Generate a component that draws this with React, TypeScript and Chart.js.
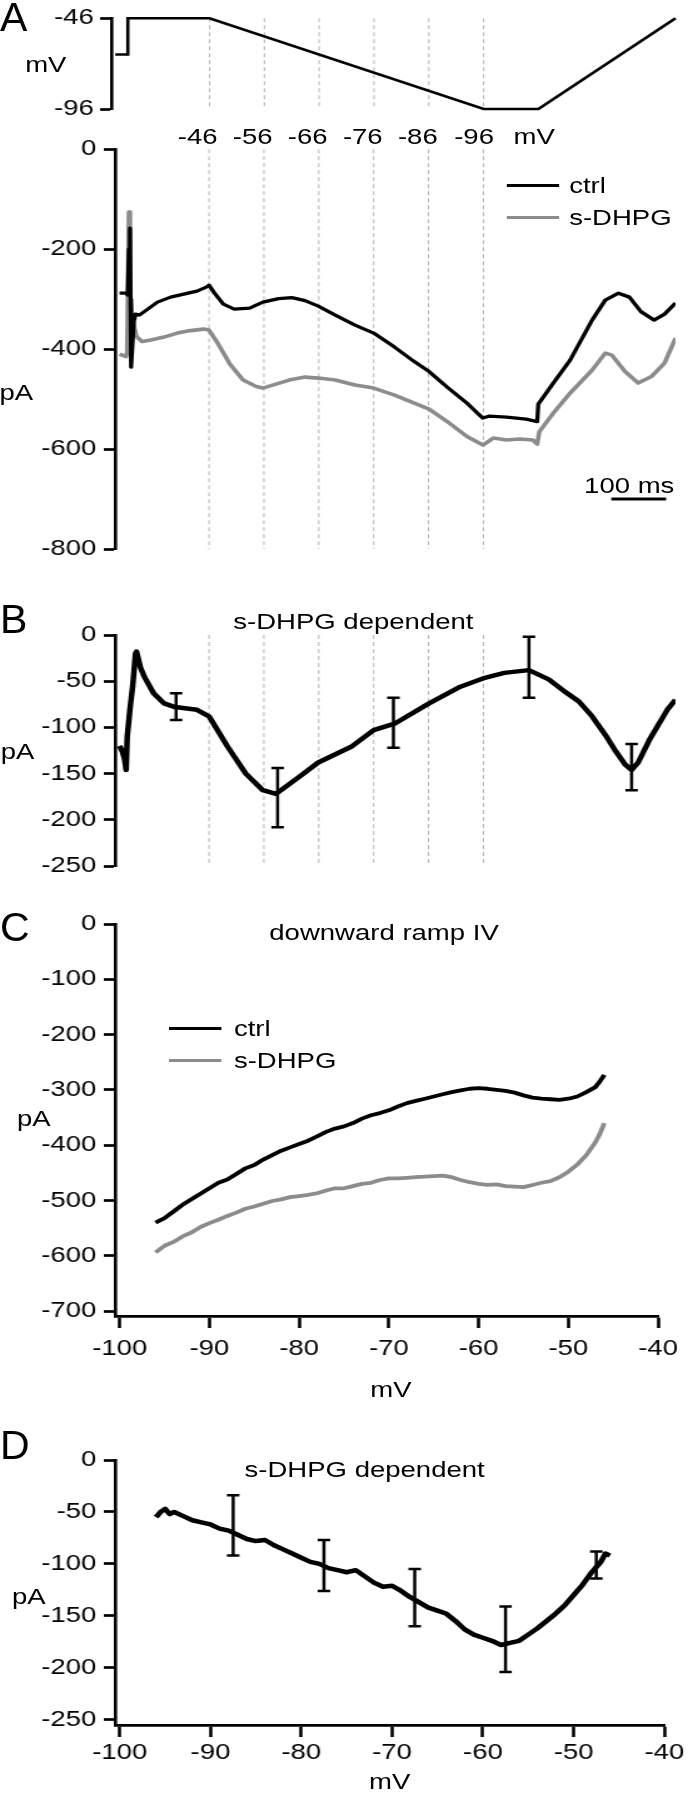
import React, { useEffect, useRef } from "react";
import { Chart, registerables } from "chart.js";
Chart.register(...registerables);

// The figure is drawn on a 550px-wide stage that is stretched horizontally to 688px,
// like the reference figure, whose content is horizontally stretched.
const STAGE_W = 550;
const STRETCH = 688 / STAGE_W;

const FONT = "'Liberation Sans', Arial, Helvetica, sans-serif";
const FS = 22;
const GRAY = "#8c8c8c";
const DASH = "#b4b4b4";

// ---------- Panel A (top): voltage protocol; time in ms, 0 = start of downward ramp
const protoTime = [-172, -149, -149, 0, 500, 600, 850];
const protoMv = [-66, -66, -46, -46, -96, -96, -46];
const protoTicks = [-96, -46];
const rampMarkTime = [0, 100, 200, 300, 400, 500];
const rampMarkLabels = ["-46", "-56", "-66", "-76", "-86", "-96"];

// ---------- Panel A: currents (pA) vs time (ms)
const aCtrlTime = [-163, -151, -148, -146, -144, -143, -142, -140, -137, -134, -127, -118, -94, -70, -46, -22, -5, 0, 10, 26, 46, 74, 98, 127, 151, 175, 199, 230, 266, 300, 338, 374, 401, 434, 470, 487, 499, 511, 542, 578, 598, 600, 626, 658, 698, 722, 746, 766, 787, 811, 830, 850];
const aCtrlPa = [-288, -288, -292, -200, -158, -300, -436, -400, -345, -330, -332, -325, -306, -296, -290, -284, -276, -272, -288, -310, -320, -318, -306, -299, -297, -303, -314, -332, -352, -368, -396, -425, -445, -476, -508, -526, -538, -534, -536, -540, -545, -510, -470, -422, -342, -302, -288, -296, -325, -342, -330, -308];
const aDhpgTime = [-163, -151, -149, -146, -144, -139, -132, -122, -106, -82, -58, -34, -10, 0, 14, 38, 62, 86, 98, 122, 146, 175, 199, 230, 266, 300, 338, 374, 401, 434, 470, 499, 518, 542, 566, 590, 598, 602, 626, 658, 698, 722, 734, 758, 782, 806, 830, 850];
const aDhpgPa = [-410, -415, -405, -126, -300, -345, -375, -385, -382, -376, -368, -363, -360, -362, -385, -430, -462, -475, -478, -470, -462, -456, -458, -462, -472, -478, -492, -508, -520, -545, -575, -592, -578, -582, -580, -582, -590, -565, -530, -488, -442, -408, -412, -445, -468, -455, -428, -378];
const aTicks = [-800, -600, -400, -200, 0];
const scaleBarTime = [733, 833]; // 100 ms
const scaleBarPa = [-700, -700];

// ---------- Panel B: s-DHPG dependent current vs time
const bTime = [-163, -158, -154, -151, -149, -144, -139, -134, -132, -125, -118, -101, -82, -62, -22, 0, 34, 67, 98, 122, 163, 199, 259, 300, 338, 401, 458, 499, 538, 583, 619, 650, 674, 698, 722, 739, 758, 770, 782, 802, 818, 835, 850];
const bPa = [-120, -126, -134, -146, -110, -80, -55, -20, -18, -35, -45, -63, -74, -78, -81, -88, -121, -150, -168, -172, -154, -138, -121, -103, -96, -74, -56, -47, -41, -38, -48, -62, -72, -88, -108, -124, -140, -146, -138, -114, -98, -81, -70];
const bErrTime = [-60, 125, 336, 583, 770];
const bErrLo = [-92, -208, -122, -68, -168];
const bErrHi = [-63, -144, -68, -2, -118];
const bTicks = [-250, -200, -150, -100, -50, 0];

// ---------- Panel C: downward ramp IV
const cMv = [-96, -95, -94, -93, -92, -91, -90, -89, -88, -87, -86, -85, -84, -83, -82, -81, -80, -79, -78, -77, -76, -75, -74, -73, -72, -71, -70, -69, -68, -67, -66, -65, -64, -63, -62, -61, -60, -59, -58, -57, -56, -55, -54, -53, -52, -51, -50, -49, -48, -47, -46.5, -46];
const cCtrl = [-540, -532, -520, -508, -498, -488, -478, -468, -462, -452, -442, -436, -426, -418, -410, -404, -398, -392, -384, -376, -370, -366, -360, -352, -346, -342, -337, -330, -324, -320, -316, -312, -308, -304, -301, -298, -297, -298, -300, -302, -305, -310, -314, -316, -317, -318, -316, -312, -304, -295, -285, -273];
const cDhpg = [-594, -582, -575, -565, -558, -548, -541, -535, -528, -522, -515, -511, -506, -501, -498, -494, -492, -490, -487, -482, -478, -478, -474, -470, -468, -463, -460, -460, -459, -458, -457, -456, -455, -458, -463, -467, -470, -472, -471, -474, -475, -476, -472, -468, -465, -458, -448, -435, -418, -395, -380, -360];
const cTicks = [-700, -600, -500, -400, -300, -200, -100, 0];
const ivXTicks = [-100, -90, -80, -70, -60, -50, -40];

// ---------- Panel D: s-DHPG dependent IV
const dMv = [-96, -95.5, -95, -94.5, -94, -93, -92, -91, -90, -89, -88, -87, -86, -85, -84, -83, -82, -81, -80, -79, -78, -77, -76, -75, -74, -73, -72, -71, -70, -69, -68, -67, -66, -65, -64, -63, -62, -61, -60, -59, -58, -57, -56, -55, -54, -53, -52, -51, -50, -49, -48, -47, -46.5, -46];
const dPa = [-55, -50, -47, -52, -50, -54, -58, -60, -62, -66, -68, -72, -76, -78, -77, -82, -86, -90, -94, -98, -100, -104, -106, -108, -106, -112, -118, -122, -121, -126, -132, -137, -142, -145, -148, -155, -163, -168, -171, -174, -178, -176, -174, -168, -162, -155, -148, -140, -130, -120, -108, -98, -90, -92];
const dErrMv = [-87.5, -77.5, -67.5, -57.5, -47.5];
const dErrLo = [-92, -126, -160, -204, -114];
const dErrHi = [-34, -77, -105, -141, -88];
const dTicks = [-250, -200, -150, -100, -50, 0];

const xy = (xs: number[], ys: number[]) => xs.map((x, i) => ({ x, y: ys[i] }));

const errorBarPlugin = {
  id: "errorBars",
  afterDatasetsDraw(chart: any, _a: any, opts: any) {
    if (!opts || !opts.x) return;
    const { ctx, scales } = chart;
    ctx.save();
    ctx.strokeStyle = "#000";
    ctx.lineWidth = 2.5;
    opts.x.forEach((xv: number, i: number) => {
      const px = scales.x.getPixelForValue(xv);
      const y1 = scales.y.getPixelForValue(opts.lo[i]);
      const y2 = scales.y.getPixelForValue(opts.hi[i]);
      ctx.beginPath();
      ctx.moveTo(px, y1);
      ctx.lineTo(px, y2);
      ctx.moveTo(px - 5, y1);
      ctx.lineTo(px + 5, y1);
      ctx.moveTo(px - 5, y2);
      ctx.lineTo(px + 5, y2);
      ctx.stroke();
    });
    ctx.restore();
  },
};

function yAxis(min: number, max: number, ticks: number[], width: number, pad = 6) {
  return {
    type: "linear",
    position: "left",
    min,
    max,
    afterFit: (s: any) => {
      s.width = width;
    },
    afterBuildTicks: (s: any) => {
      s.ticks = ticks.map((v) => ({ value: v }));
    },
    grid: { drawOnChartArea: false, drawTicks: true, tickLength: 9.5, tickWidth: 2.7, tickColor: "#000" },
    border: { display: true, color: "#000", width: 2.6 },
    ticks: { color: "#000", font: { family: FONT, size: FS }, padding: pad },
  };
}

function xAxisTime(min: number) {
  return { type: "linear", min, max: 850, display: false };
}

function xAxisMv(pad: number) {
  return {
    type: "linear",
    position: "bottom",
    min: -100.44,
    max: -40,
    afterFit: (s: any) => {
      s.height = 60;
    },
    afterBuildTicks: (s: any) => {
      s.ticks = ivXTicks.map((v) => ({ value: v }));
    },
    grid: { drawOnChartArea: false, drawTicks: true, tickLength: 12, tickWidth: 2.6, tickColor: "#000" },
    border: { display: true, color: "#000", width: 2.7 },
    ticks: { color: "#000", font: { family: FONT, size: FS }, padding: pad, maxRotation: 0 },
  };
}

function dashSets(yTop: number, yBot: number) {
  return rampMarkTime.map((t) => ({
    data: [
      { x: t, y: yTop },
      { x: t, y: yBot },
    ],
    borderColor: DASH,
    borderWidth: 1,
    borderDash: [4, 3],
    pointRadius: 0,
    order: 10,
  }));
}

function trace(xs: number[], ys: number[], color: string, w = 2.5) {
  return {
    data: xy(xs, ys),
    borderColor: color,
    borderWidth: w,
    pointRadius: 0,
    tension: 0,
    borderJoinStyle: "round",
    order: 0,
  };
}

function baseOptions(scales: any, padding: any, extra: any = {}) {
  return {
    responsive: false,
    animation: false,
    events: [],
    layout: { padding },
    scales,
    plugins: { legend: { display: false }, tooltip: { enabled: false }, ...extra },
  };
}

const cfgProto = () => ({
  type: "line",
  data: {
    datasets: [{ ...trace(protoTime, protoMv, "#000", 2.6), borderJoinStyle: "miter", clip: false }, ...dashSets(-46, -96)],
  },
  options: baseOptions(
    { x: xAxisTime(-178), y: yAxis(-96, -46, protoTicks, 89.5, 5) },
    { left: 0, right: 10, top: 12, bottom: 21 }
  ),
});

const cfgA = () => ({
  type: "line",
  data: {
    datasets: [
      trace(aCtrlTime, aCtrlPa, "#000", 3.3),
      trace(aDhpgTime, aDhpgPa, GRAY, 3.6),
      trace(scaleBarTime, scaleBarPa, "#000", 3),
      ...dashSets(0, -800),
    ],
  },
  options: baseOptions(
    { x: xAxisTime(-170), y: yAxis(-800, 0, aTicks, 92.5) },
    { left: 0, right: 10, top: 19, bottom: 21 }
  ),
});

const cfgB = () => ({
  type: "line",
  data: {
    datasets: [trace(bTime, bPa, "#000", 4.5), ...dashSets(0, -250)],
  },
  plugins: [errorBarPlugin],
  options: baseOptions(
    { x: xAxisTime(-170), y: yAxis(-250, 0, bTicks, 92.5) },
    { left: 0, right: 10, top: 25, bottom: 24 },
    { errorBars: { x: bErrTime, lo: bErrLo, hi: bErrHi } }
  ),
});

const cfgC = () => ({
  type: "line",
  data: {
    datasets: [trace(cMv, cCtrl, "#000", 3.8), trace(cMv, cDhpg, GRAY, 3.8)],
  },
  options: baseOptions(
    { x: xAxisMv(8), y: yAxis(-709, 0, cTicks, 92.5) },
    { left: 0, right: 16, top: 24, bottom: 4 }
  ),
});

const cfgD = () => ({
  type: "line",
  data: {
    datasets: [trace(dMv, dPa, "#000", 4.5)],
  },
  plugins: [errorBarPlugin],
  options: baseOptions(
    { x: xAxisMv(3), y: yAxis(-255, 0, dTicks, 92.5) },
    { left: 0, right: 16, top: 20, bottom: 0 },
    { errorBars: { x: dErrMv, lo: dErrLo, hi: dErrHi } }
  ),
});

function ChartPanel({ top, height, config }: { top: number; height: number; config: () => any }) {
  const ref = useRef<HTMLCanvasElement | null>(null);
  useEffect(() => {
    const chart = new Chart(ref.current as HTMLCanvasElement, config());
    return () => chart.destroy();
  }, []);
  return (
    <canvas
      ref={ref}
      width={STAGE_W}
      height={height}
      style={{ position: "absolute", left: 0, top, width: STAGE_W, height }}
    />
  );
}

function T({ x, y, children, anchor = "center", size = FS, sx = 1 }: any) {
  const tx = anchor === "center" ? "-50%" : anchor === "right" ? "-100%" : "0";
  const origin = anchor === "center" ? "center center" : anchor === "right" ? "right center" : "left center";
  return (
    <div
      style={{
        position: "absolute",
        left: x,
        top: y,
        transform: `translate(${tx}, -50%) scaleX(${sx})`,
        transformOrigin: origin,
        fontFamily: FONT,
        fontSize: size,
        lineHeight: 1,
        whiteSpace: "nowrap",
        color: "#000",
      }}
    >
      {children}
    </div>
  );
}

function LegendLine({ x, y, w, color }: any) {
  return <div style={{ position: "absolute", left: x, top: y - 1.5, width: w, height: 3, background: color }} />;
}

const rampLabelX = [158, 202, 246, 290, 334, 379];
const LETTER = 40;
const LETTER_SX = 0.82;

export default function App() {
  return (
    <div style={{ position: "absolute", left: 0, top: 0, width: 688, height: 1800, background: "#fff", overflow: "hidden" }}>
      <div
        style={{
          position: "absolute",
          left: 0,
          top: 0,
          width: STAGE_W,
          height: 1800,
          transform: `scaleX(${STRETCH})`,
          transformOrigin: "0 0",
        }}
      >
        <ChartPanel top={0} height={130} config={cfgProto} />
        <ChartPanel top={130} height={440} config={cfgA} />
        <ChartPanel top={610} height={280} config={cfgB} />
        <ChartPanel top={900} height={480} config={cfgC} />
        <ChartPanel top={1440} height={345} config={cfgD} />

        {/* Panel A */}
        <T x={0} y={17} size={LETTER} anchor="left" sx={LETTER_SX}>A</T>
        <T x={36.6} y={65}>mV</T>
        {rampMarkLabels.map((l, i) => (
          <T key={l} x={rampLabelX[i]} y={137}>{l}</T>
        ))}
        <T x={427} y={137}>mV</T>
        <T x={13} y={393}>pA</T>
        <LegendLine x={405} y={185} w={42} color="#000" />
        <T x={455} y={186} anchor="left">ctrl</T>
        <LegendLine x={405} y={217} w={42} color={GRAY} />
        <T x={455} y={218} anchor="left">s-DHPG</T>
        <T x={503} y={486}>100 ms</T>

        {/* Panel B */}
        <T x={0} y={619} size={LETTER} anchor="left" sx={LETTER_SX}>B</T>
        <T x={282.5} y={622}>s-DHPG dependent</T>
        <T x={14} y={752}>pA</T>

        {/* Panel C */}
        <T x={0} y={927} size={LETTER} anchor="left" sx={LETTER_SX}>C</T>
        <T x={307} y={933}>downward ramp IV</T>
        <LegendLine x={135} y={1028} w={42} color="#000" />
        <T x={187} y={1029} anchor="left">ctrl</T>
        <LegendLine x={135} y={1060} w={42} color={GRAY} />
        <T x={187} y={1061} anchor="left">s-DHPG</T>
        <T x={27} y={1119}>pA</T>
        <T x={312.5} y={1390}>mV</T>

        {/* Panel D */}
        <T x={0} y={1445} size={LETTER} anchor="left" sx={LETTER_SX}>D</T>
        <T x={291.5} y={1470}>s-DHPG dependent</T>
        <T x={23} y={1597}>pA</T>
        <T x={311.5} y={1782}>mV</T>
      </div>
    </div>
  );
}
